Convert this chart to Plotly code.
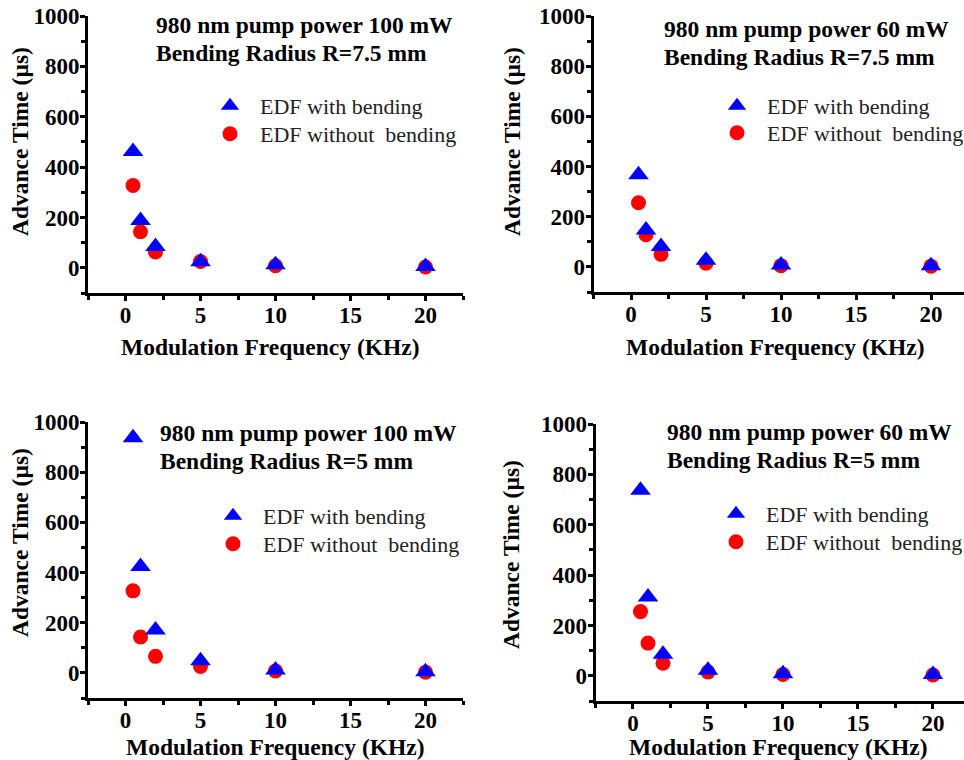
import plotly.graph_objects as go

# ---------------- data ----------------
freq = [0.5, 1, 2, 5, 10, 20]

p1_bend = [462, 188, 85, 24, 12, 5]
p1_nobend = [327, 143, 63, 25, 8, 3]

p2_bend = [367, 147, 81, 27, 8, 5]
p2_nobend = [256, 128, 50, 15, 5, 3]

p3_bend = [937, 424, 171, 48, 12, 5]
p3_nobend = [327, 143, 66, 26, 8, 3]

p4_bend = [737, 313, 86, 22, 8, 5]
p4_nobend = [255, 130, 50, 15, 5, 3]

titles = [
    ["980 nm pump power 100 mW", "Bending Radius R=7.5 mm"],
    ["980 nm pump power 60 mW", "Bending Radius R=7.5 mm"],
    ["980 nm pump power 100 mW", "Bending Radius R=5 mm"],
    ["980 nm pump power 60 mW", "Bending Radius R=5 mm"],
]
name_bend = "EDF with bending"
name_nobend = "EDF without\u00a0 bending"
x_title = "Modulation Frequency (KHz)"
y_title = "Advance Time (\u00b5s)"

y_tickvals = [0, 200, 400, 600, 800, 1000]
x_tickvals = [0, 5, 10, 15, 20]

# ---------------- layout geometry (pixels) ----------------
W, H = 964, 760
FONT = "Liberation Serif"

panels = [
    dict(l=88, r=463, t=16, b=293, xr=22.5, leg=(230, 105, 133), tit=(154, 25, 53), xt=(270, 347), yt=(20, 142)),
    dict(l=593.5, r=964, t=16, b=292, xr=22.2, leg=(737, 105, 132), tit=(662, 29, 57), xt=(775, 347), yt=(512, 142)),
    dict(l=88, r=463, t=422, b=698, xr=22.5, leg=(233, 515, 543), tit=(158, 433, 461), xt=(275, 747), yt=(20, 543)),
    dict(l=595.5, r=964, t=424, b=701, xr=22.07, leg=(736, 513, 541), tit=(665, 432, 460), xt=(778, 747), yt=(511, 555)),
]
series = [(p1_bend, p1_nobend), (p2_bend, p2_nobend), (p3_bend, p3_nobend), (p4_bend, p4_nobend)]

fig = go.Figure()
annotations = []
layout_updates = {}

for i, (p, (bend, nobend)) in enumerate(zip(panels, series)):
    k = "" if i == 0 else str(i + 1)
    xa, ya = "x" + k, "y" + k
    leg_b = "legend" + ("" if i == 0 else str(2 * i + 1))
    leg_n = "legend" + str(2 * i + 2)
    fig.add_trace(go.Scatter(
        x=freq, y=nobend, mode="markers", name=name_nobend, xaxis=xa, yaxis=ya,
        legend=leg_n,
        marker=dict(symbol="circle", size=15, color="#ff0000", line=dict(width=0)),
    ))
    fig.add_trace(go.Scatter(
        x=freq, y=bend, mode="markers", name=name_bend, xaxis=xa, yaxis=ya,
        legend=leg_b,
        marker=dict(symbol="triangle-up", size=18, color="#0000ff", line=dict(width=0)),
    ))

    axis_common = dict(
        showline=True, linecolor="black", linewidth=3, showgrid=False, zeroline=False,
        automargin=False,
        ticks="outside", ticklen=5, tickwidth=3, tickcolor="black",
        tickfont=dict(family=FONT, size=23, color="black", weight="bold"),
        minor=dict(ticks="outside", ticklen=4, tickwidth=3, tickcolor="black"),
    )
    layout_updates["xaxis" + k] = dict(
        axis_common, domain=[p["l"] / W, p["r"] / W], range=[-2.5, p["xr"]],
        anchor=ya, tickvals=x_tickvals, ticklabelstandoff=-6,
        minor=dict(axis_common["minor"], dtick=2.5, tick0=0),
    )
    layout_updates["yaxis" + k] = dict(
        axis_common, domain=[1 - p["b"] / H, 1 - p["t"] / H], range=[-100, 1000],
        anchor=xa, tickvals=y_tickvals, ticklabelstandoff=-4,
        minor=dict(axis_common["minor"], dtick=100, tick0=0),
    )
    lx, ly1, ly2 = p["leg"]
    for leg, ly in ((leg_b, ly1), (leg_n, ly2)):
        layout_updates[leg] = dict(
            x=(lx - 30) / W, y=1 - (ly - 20) / H, xanchor="left", yanchor="top",
            bgcolor="rgba(0,0,0,0)", borderwidth=0, itemwidth=50,
            font=dict(family=FONT, size=22, color="#222222"),
        )
    tx, ty1, ty2 = p["tit"]
    for line, ty in zip(titles[i], (ty1, ty2)):
        annotations.append(dict(
            text="<b>" + line + "</b>",
            x=tx / W, y=1 - ty / H, xref="paper", yref="paper",
            xanchor="left", yanchor="middle", align="left", showarrow=False,
            font=dict(family=FONT, size=23.5, color="black"),
        ))
    xx, xy = p["xt"]
    annotations.append(dict(
        text="<b>" + x_title + "</b>", x=xx / W, y=1 - xy / H, xref="paper", yref="paper",
        xanchor="center", yanchor="middle", showarrow=False,
        font=dict(family=FONT, size=23.5, color="black"),
    ))
    yx, yy = p["yt"]
    annotations.append(dict(
        text="<b>" + y_title + "</b>", x=yx / W, y=1 - yy / H, xref="paper", yref="paper",
        xanchor="center", yanchor="middle", textangle=-90, showarrow=False,
        font=dict(family=FONT, size=23.5, color="black"),
    ))

fig.update_layout(
    width=W, height=H, margin=dict(l=0, r=0, t=0, b=0, autoexpand=False),
    paper_bgcolor="white", plot_bgcolor="white",
    annotations=annotations, showlegend=True,
    **layout_updates,
)

fig.write_html(
    "out.html",
    config={"displayModeBar": False},
    post_script="document.body.style.margin='0';document.body.style.overflow='hidden';",
)
